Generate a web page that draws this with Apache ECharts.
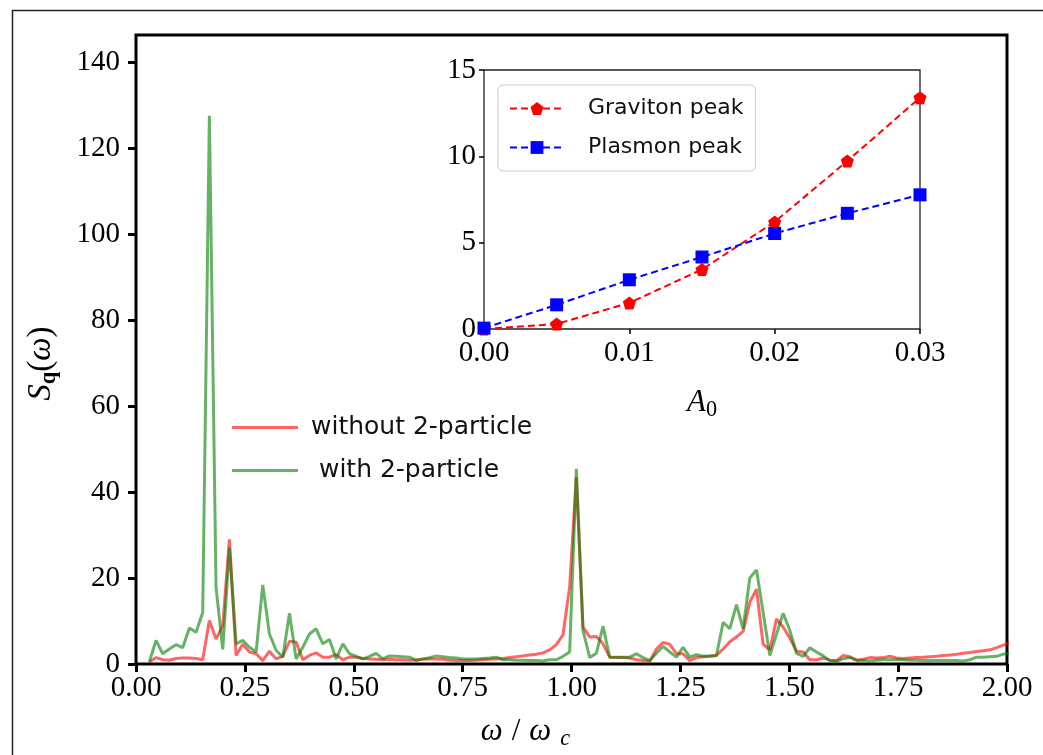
<!DOCTYPE html>
<html><head><meta charset="utf-8">
<script src="https://cdn.jsdelivr.net/npm/echarts@6/dist/echarts.min.js"></script>
<style>html,body{margin:0;padding:0;background:#fff;} #c{width:1043px;height:755px;}</style>
</head><body><div id="c"></div>
<script>
// omega / omega_c sample grid
const omega = [0.0306,0.0460,0.0613,0.0766,0.0919,0.1072,0.1226,0.1379,0.1532,0.1685,
0.1838,0.1992,0.2145,0.2298,0.2451,0.2604,0.2758,0.2911,0.3064,0.3217,
0.3370,0.3524,0.3677,0.3830,0.3983,0.4136,0.4290,0.4443,0.4596,0.4749,
0.4902,0.5056,0.5209,0.5362,0.5515,0.5668,0.5822,0.5975,0.6128,0.6281,
0.6434,0.6588,0.6741,0.6894,0.7047,0.7200,0.7354,0.7507,0.7660,0.7813,
0.7966,0.8120,0.8273,0.8426,0.8579,0.8732,0.8886,0.9039,0.9192,0.9345,
0.9498,0.9652,0.9805,0.9958,1.0111,1.0264,1.0418,1.0571,1.0724,1.0877,
1.1030,1.1184,1.1337,1.1490,1.1643,1.1796,1.1950,1.2103,1.2256,1.2409,
1.2562,1.2716,1.2869,1.3022,1.3175,1.3328,1.3482,1.3635,1.3788,1.3941,
1.4094,1.4248,1.4401,1.4554,1.4707,1.4860,1.5014,1.5167,1.5320,1.5473,
1.5626,1.5780,1.5933,1.6086,1.6239,1.6392,1.6546,1.6699,1.6852,1.7005,
1.7158,1.7312,1.7465,1.7618,1.7771,1.7924,1.8078,1.8231,1.8384,1.8537,
1.8690,1.8844,1.8997,1.9150,1.9303,1.9456,1.9610,1.9763,1.9916,2.0069];

const withoutTwoParticle = [0.5,1.5,1.0,0.9,1.3,1.4,1.4,1.3,1.0,10.1,
5.8,9.0,29.0,2.0,4.6,2.8,2.4,0.8,3.0,1.2,
1.8,5.3,5.1,1.0,2.0,2.6,1.6,1.6,2.2,1.0,
1.6,1.6,1.3,1.2,1.1,1.0,1.1,1.0,1.0,0.9,
1.0,1.1,1.2,1.2,1.1,0.9,0.8,0.8,0.8,0.9,
1.0,1.1,1.2,1.3,1.5,1.7,1.9,2.1,2.3,2.6,
3.3,4.5,6.8,18.0,43.5,8.6,6.3,6.4,4.7,1.6,
1.5,1.5,1.4,1.0,0.8,0.6,3.5,5.0,4.6,2.4,
2.4,0.8,1.5,1.7,1.8,2.0,3.5,5.2,6.3,7.6,
14.4,17.4,4.6,3.3,10.5,8.6,6.0,3.0,2.8,1.0,
1.0,1.4,0.9,0.8,2.0,1.7,0.9,1.1,1.5,1.4,
1.5,1.8,1.4,1.3,1.4,1.5,1.6,1.7,1.8,2.0,
2.1,2.3,2.5,2.7,2.9,3.1,3.3,3.8,4.4,5.0];

const withTwoParticle = [0.5,5.5,2.4,3.5,4.5,3.8,8.4,7.4,12.0,127.5,
17.8,3.4,27.1,4.7,5.5,3.9,2.8,18.4,7.0,3.2,
1.6,11.8,1.2,3.9,7.0,8.2,4.7,5.7,1.2,4.7,
2.4,1.8,1.2,1.8,2.5,1.2,1.9,1.8,1.7,1.6,
0.8,1.2,1.5,1.9,1.7,1.5,1.4,1.2,1.2,1.2,
1.3,1.4,1.6,1.0,1.0,0.9,0.9,0.8,0.8,0.7,
1.0,1.0,1.8,2.8,45.4,7.8,1.5,2.5,8.8,1.6,
1.6,1.6,1.6,2.4,1.5,0.8,2.5,4.1,2.8,1.6,
3.9,1.6,2.2,1.8,1.9,2.0,9.7,8.2,13.8,8.2,
20.0,21.9,12.0,2.0,7.0,11.8,7.8,2.5,1.8,3.8,
2.8,1.9,0.8,0.6,1.2,1.5,0.9,0.8,0.7,0.9,
1.0,1.0,1.0,1.0,0.9,0.9,0.8,0.8,0.8,0.8,
0.8,0.8,0.7,1.0,1.6,1.6,1.7,1.8,2.3,2.6];

// inset data
const amplitudeA0 = [0, 0.005, 0.01, 0.015, 0.02, 0.025, 0.03];
const gravitonPeak = [0.0, 0.29, 1.51, 3.45, 6.2, 9.73, 13.4];
const plasmonPeak  = [0.05, 1.4, 2.85, 4.17, 5.53, 6.7, 7.77];

const pentagon = 'path://M0,-10 L9.51,-3.09 L5.88,8.09 L-5.88,8.09 L-9.51,-3.09 Z';
const serif = 'Liberation Serif';
const sans = 'DejaVu Sans';

const chart = echarts.init(document.getElementById('c'));
function rich(sz) {
  return {
    i: {fontFamily: serif, fontStyle: 'italic', fontSize: sz, color: '#000'},
    n: {fontFamily: serif, fontSize: sz, color: '#000'},
    sp: {fontFamily: serif, fontSize: sz, color: '#000', width: 9},
    sb: {fontFamily: serif, fontWeight: 'bold', fontSize: sz * 0.68, color: '#000', padding: [sz * 0.45, 0, 0, 0]},
    si: {fontFamily: serif, fontStyle: 'italic', fontSize: sz * 0.72, color: '#000', padding: [sz * 0.45, 0, 0, 0]},
    sn: {fontFamily: serif, fontSize: sz * 0.72, color: '#000', padding: [sz * 0.45, 0, 0, 0]}
  };
}

chart.setOption({
  animation: false,
  backgroundColor: '#fff',
  graphic: [{
    type: 'rect', left: 10, top: 8, shape: {width: 1060, height: 780},
    style: {fill: 'none', stroke: '#222', lineWidth: 1.5}, silent: true, z: -1
  }],
  grid: [
    {left: 136, right: 36, top: 35, bottom: 88, show: true, borderColor: '#000', borderWidth: 3, backgroundColor: 'transparent'},
    {left: 484, right: 123, top: 70, bottom: 426, show: true, borderColor: '#222', borderWidth: 1.3, backgroundColor: '#fff', z: 5}
  ],
  xAxis: [
    {type: 'value', gridIndex: 0, min: 0, max: 2, interval: 0.25,
     axisLine: {show: false}, splitLine: {show: false},
     axisTick: {show: true, length: 8, lineStyle: {width: 3, color: '#000'}},
     axisLabel: {fontFamily: serif, fontSize: 29, color: '#000', margin: 10, formatter: v => v.toFixed(2)},
     name: '{i|ω}{sp| }{n|/}{sp| }{i|ω}{sp| }{si|c}', nameLocation: 'middle', nameGap: 50,
     nameTextStyle: {rich: rich(31), padding: [0, 92, 0, 0]}},
    {type: 'value', gridIndex: 1, min: 0, max: 0.03, interval: 0.01, z: 6,
     axisLine: {show: false}, splitLine: {show: false},
     axisTick: {show: true, length: 5, lineStyle: {width: 1.5, color: '#000'}},
     axisLabel: {fontFamily: serif, fontSize: 29, color: '#000', margin: 10, formatter: v => v.toFixed(2)},
     name: '{i|A}{sn|0}', nameLocation: 'middle', nameGap: 56,
     nameTextStyle: {rich: rich(31)}}
  ],
  yAxis: [
    {type: 'value', gridIndex: 0, min: 0, max: 146.3, interval: 20,
     axisLine: {show: false}, splitLine: {show: false},
     axisTick: {show: true, length: 8, lineStyle: {width: 3, color: '#000'}},
     axisLabel: {fontFamily: serif, fontSize: 29, color: '#000', margin: 16, showMaxLabel: false,
                 formatter: v => (v % 20 === 0 ? String(v) : '')},
     name: '{i|S}{sb|q}{n|(}{i|ω}{n|)}', nameLocation: 'middle', nameGap: 76, nameRotate: 90,
     nameTextStyle: {rich: rich(33), padding: [0, 28, 0, 0]}},
    {type: 'value', gridIndex: 1, min: 0, max: 15, interval: 5, z: 6,
     axisLine: {show: false}, splitLine: {show: false},
     axisTick: {show: true, length: 5, lineStyle: {width: 1.5, color: '#000'}},
     axisLabel: {fontFamily: serif, fontSize: 29, color: '#000', margin: 8}}
  ],
  legend: [
    {data: ['without 2-particle'], left: 232, top: 415, padding: 0, icon: 'rect', itemWidth: 66, itemHeight: 3,
     textStyle: {fontFamily: sans, fontSize: 25, color: '#111', padding: [0, 0, 0, 8]}},
    {data: [' with 2-particle'], left: 232, top: 458, padding: 0, icon: 'rect', itemWidth: 66, itemHeight: 3,
     textStyle: {fontFamily: sans, fontSize: 25, color: '#111', padding: [0, 0, 0, 8]}},
    {data: ['Graviton peak', 'Plasmon peak'], orient: 'vertical', left: 498, top: 85, z: 10,
     padding: [11, 12, 11, 11], itemGap: 14, itemWidth: 54, itemHeight: 16,
     borderColor: '#cccccc', borderWidth: 1, borderRadius: 5, backgroundColor: '#fff',
     textStyle: {fontFamily: sans, fontSize: 22, color: '#111', lineHeight: 25, padding: [0, 0, 0, 19]}}
  ],
  series: [
    {name: 'without 2-particle', type: 'line', xAxisIndex: 0, yAxisIndex: 0, showSymbol: false, symbol: 'none',
     data: omega.map((w, i) => [w, withoutTwoParticle[i]]),
     lineStyle: {color: 'rgba(255,0,0,0.6)', width: 3}, itemStyle: {color: 'rgba(255,0,0,0.6)'}},
    {name: ' with 2-particle', type: 'line', xAxisIndex: 0, yAxisIndex: 0, showSymbol: false, symbol: 'none',
     data: omega.map((w, i) => [w, withTwoParticle[i]]),
     lineStyle: {color: 'rgba(0,128,0,0.6)', width: 3}, itemStyle: {color: 'rgba(0,128,0,0.6)'}},
    {name: 'Graviton peak', type: 'line', xAxisIndex: 1, yAxisIndex: 1, z: 7,
     data: amplitudeA0.map((a, i) => [a, gravitonPeak[i]]),
     symbol: pentagon, symbolSize: 13, clip: false,
     lineStyle: {color: '#ff0000', width: 2, type: [7, 4]}, itemStyle: {color: '#ff0000'}},
    {name: 'Plasmon peak', type: 'line', xAxisIndex: 1, yAxisIndex: 1, z: 7,
     data: amplitudeA0.map((a, i) => [a, plasmonPeak[i]]),
     symbol: 'rect', symbolSize: 13, clip: false,
     lineStyle: {color: '#0000ff', width: 2, type: [7, 4]}, itemStyle: {color: '#0000ff'}}
  ]
});
</script></body></html>
